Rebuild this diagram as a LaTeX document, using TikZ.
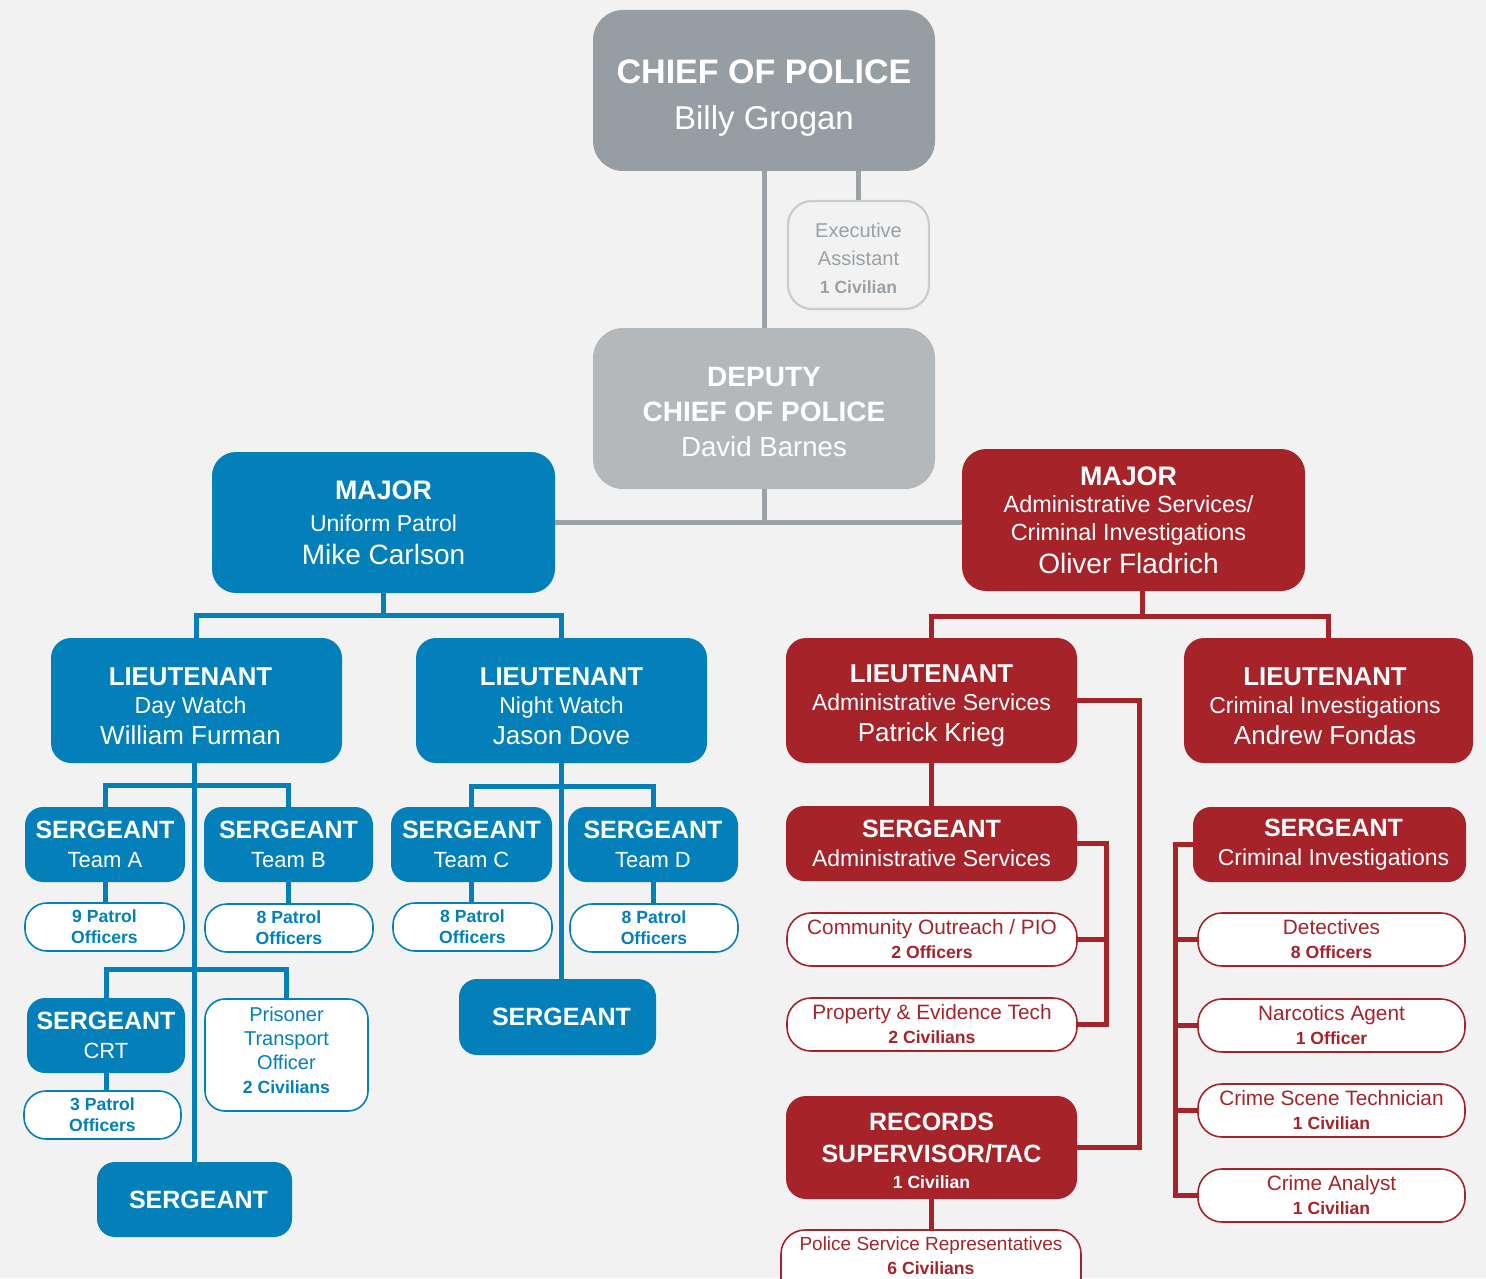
\documentclass[tikz,border=0pt]{standalone}
\usepackage{fontspec}
\setmainfont{Liberation Sans}
\definecolor{bgc}{HTML}{F2F2F2}
\definecolor{chiefc}{HTML}{969EA3}
\definecolor{deputyc}{HTML}{B4B8BB}
\definecolor{linegray}{HTML}{9AA2A6}
\definecolor{execborder}{HTML}{C8CCCF}
\definecolor{exectext}{HTML}{9AA1A6}
\definecolor{bluec}{HTML}{0380B9}
\definecolor{redc}{HTML}{A6232A}
\newcommand{\fs}[2]{\fontsize{#1}{#2}\selectfont}
\tikzset{
  sz/.style 2 args={minimum width={#1*0.5pt},minimum height={#2*0.5pt}},
  boxbase/.style={inner sep=0pt, align=center, text=white},
  graybox/.style={boxbase},
  bluebox/.style={boxbase, fill=bluec},
  redbox/.style={boxbase, fill=redc},
  wblue/.style={inner sep=0pt, align=center, fill=white, draw=bluec, line width=0.8pt, text=bluec, rounded corners=11pt},
  wred/.style={inner sep=0pt, align=center, fill=white, draw=redc, line width=0.8pt, text=redc, rounded corners=12pt},
  execbox/.style={inner sep=0pt, align=center, fill=bgc, draw=execborder, line width=1.1pt, text=exectext, rounded corners=12pt, font=\fs{10}{14}},
  gline/.style={draw=linegray, line width=2.5pt},
  bline/.style={draw=bluec, line width=2.5pt},
  rline/.style={draw=redc, line width=2.5pt},
  ltfont/.style={font=\fs{11.5}{14}, text height=43.9pt},
  sgfont/.style={font=\fs{11}{14.5}},
  patfont/.style={font=\bfseries\fs{8.8}{10.5}}
}
\begin{document}
\begin{tikzpicture}[x=0.5pt,y=-0.5pt]
\useasboundingbox (0,0) rectangle (1486,1278);
\clip (0,0) rectangle (1486,1278);
\fill[bgc] (0,0) rectangle (1486,1278);

% ---------- top ----------
\node[graybox, fill=chiefc, sz={342}{161}, rounded corners=15pt, font=\fs{17}{23}, text height=42.4pt] (chief) at (764,90.5)
  {\textbf{CHIEF OF POLICE}\\{\fs{16.5}{23}Billy Grogan}};
\node[execbox, sz={141}{108}, text height=38.2pt] (exec) at (858.5,255)
  {Executive\\Assistant\\{\bfseries\fs{8.8}{14}1 Civilian}};
\node[graybox, fill=deputyc, sz={342}{161}, rounded corners=15pt, font=\fs{14}{17.5}, text height=48.2pt] (deputy) at (764,408.5)
  {\textbf{DEPUTY}\\\textbf{CHIEF OF POLICE}\\{\fs{13.8}{17.5}David Barnes}};

% ---------- majors ----------
\node[bluebox, sz={343}{141}, rounded corners=12pt, font=\fs{11.5}{16}] (majB) at (383.5,522.5)
  {{\bfseries\fs{13.4}{16}MAJOR}\\Uniform Patrol\\[0.5pt]{\fs{14}{16}Mike Carlson}};
\node[redbox, sz={343}{142}, rounded corners=12pt, font=\fs{11.7}{13.75}] (majR) at (1133.5,520)
  {\hspace*{-5pt}{\bfseries\fs{13.4}{14}MAJOR}\\\hspace*{-5pt}Administrative Services/\\\hspace*{-5pt}Criminal Investigations\\[2.75pt]\hspace*{-5pt}{\fs{14}{14}Oliver Fladrich}};

% ---------- lieutenants ----------
\node[bluebox, ltfont, sz={291}{125}, rounded corners=10pt] (ltD) at (196.5,700.5)
  {\hspace*{-6pt}{\bfseries\fs{12.9}{14}LIEUTENANT}\\\hspace*{-6pt}Day Watch\\[1.5pt]\hspace*{-6pt}{\fs{13}{14}William Furman}};
\node[bluebox, ltfont, sz={291}{125}, rounded corners=10pt] (ltN) at (561.5,700.5)
  {{\bfseries\fs{12.9}{14}LIEUTENANT}\\Night Watch\\[1.5pt]{\fs{13}{14}Jason Dove}};
\node[redbox, ltfont, sz={291}{125}, rounded corners=10pt] (ltA) at (931.5,700.5)
  {{\bfseries\fs{12.9}{14}LIEUTENANT}\\Administrative Services\\[1.5pt]{\fs{13}{14}Patrick Krieg}};
\node[redbox, ltfont, sz={289}{125}, rounded corners=10pt] (ltC) at (1328.5,700.5)
  {\hspace*{-3.5pt}{\bfseries\fs{12.9}{14}LIEUTENANT}\\\hspace*{-3.5pt}Criminal Investigations\\[1.5pt]\hspace*{-3.5pt}{\fs{13}{14}Andrew Fondas}};

% ---------- blue sergeants ----------
\node[bluebox, sgfont, sz={160}{75}, rounded corners=9pt] (sgtA) at (105,844.5)
  {{\bfseries\fs{12.5}{14.5}SERGEANT}\\Team A};
\node[bluebox, sgfont, sz={169}{75}, rounded corners=9pt] (sgtB) at (288.5,844.5)
  {{\bfseries\fs{12.5}{14.5}SERGEANT}\\Team B};
\node[bluebox, sgfont, sz={161}{75}, rounded corners=9pt] (sgtC) at (471.5,844.5)
  {{\bfseries\fs{12.5}{14.5}SERGEANT}\\Team C};
\node[bluebox, sgfont, sz={170}{75}, rounded corners=9pt] (sgtD) at (653,844.5)
  {{\bfseries\fs{12.5}{14.5}SERGEANT}\\Team D};
\node[wblue, patfont, sz={159}{48}] (patA) at (104.5,927) {9 Patrol\\Officers};
\node[wblue, patfont, sz={168}{48}] (patB) at (289,928) {8 Patrol\\Officers};
\node[wblue, patfont, sz={159}{48}] (patC) at (472.5,927) {8 Patrol\\Officers};
\node[wblue, patfont, sz={168}{48}] (patD) at (654,928) {8 Patrol\\Officers};
\node[bluebox, sgfont, sz={158}{75}, rounded corners=9pt] (sgtCRT) at (106,1035.5)
  {{\bfseries\fs{12.5}{14.5}SERGEANT}\\CRT};
\node[wblue, sz={163}{112}, rounded corners=10pt, font=\fs{10}{12}, text depth=5pt] (pris) at (286.5,1055)
  {Prisoner\\Transport\\Officer\\{\bfseries\fs{8.8}{12}2 Civilians}};
\node[wblue, patfont, sz={157}{48}] (pat3) at (102.5,1115) {3 Patrol\\Officers};
\node[bluebox, sz={195}{75}, rounded corners=9pt, font=\bfseries\fs{12.5}{14}] (sgtE) at (194.5,1199.5) {\hspace*{4pt}SERGEANT};
\node[bluebox, sz={197}{76}, rounded corners=9pt, font=\bfseries\fs{12.5}{14}] (sgtF) at (557.5,1017) {\hspace*{4pt}SERGEANT};

% ---------- red lower ----------
\node[redbox, sz={291}{75}, rounded corners=9pt, font=\fs{11.5}{14.5}] (sgtAdm) at (931.5,843.5)
  {{\bfseries\fs{12.5}{14.5}SERGEANT}\\Administrative Services};
\node[wred, sz={290}{53}, font=\fs{10.4}{12}] (comm) at (932,939.5)
  {Community Outreach / PIO\\{\bfseries\fs{8.8}{12}2 Officers}};
\node[wred, sz={290}{53}, font=\fs{10.4}{12}] (prop) at (932,1024.5)
  {Property \& Evidence Tech\\{\bfseries\fs{8.8}{12}2 Civilians}};
\node[redbox, sz={291}{103}, rounded corners=10pt, font=\fs{12.5}{16}, text height=41.1pt] (rec) at (931.5,1147.5)
  {\textbf{RECORDS}\\\textbf{SUPERVISOR/TAC}\\[-3pt]{\bfseries\fs{8.8}{16}1 Civilian}};
\node[wred, sz={300}{80}, font=\fs{9.5}{12}, text depth=14.5pt] (psr) at (931,1270)
  {Police Service Representatives\\{\bfseries\fs{8.8}{12}6 Civilians}};
\node[redbox, sz={273}{75}, rounded corners=9pt, font=\fs{11.5}{14.5}] (sgtCI) at (1329.5,844.5)
  {\hspace*{4pt}{\bfseries\fs{12.5}{14.5}SERGEANT}\\\hspace*{4pt}Criminal Investigations};
\node[wred, sz={267}{53}, font=\fs{10.4}{12}] (det) at (1331.5,939.5)
  {Detectives\\{\bfseries\fs{8.8}{12}8 Officers}};
\node[wred, sz={267}{53}, font=\fs{10.4}{12}] (narc) at (1331.5,1025.5)
  {Narcotics Agent\\{\bfseries\fs{8.8}{12}1 Officer}};
\node[wred, sz={267}{53}, font=\fs{10.4}{12}] (cst) at (1331.5,1110.5)
  {Crime Scene Technician\\{\bfseries\fs{8.8}{12}1 Civilian}};
\node[wred, sz={267}{53}, font=\fs{10.4}{12}] (ca) at (1331.5,1195.5)
  {Crime Analyst\\{\bfseries\fs{8.8}{12}1 Civilian}};

% ---------- gray connectors ----------
\draw[gline] (chief.south) -- (deputy.north);
\draw[gline] (exec.north) -- (exec.north |- chief.south);
\draw[gline] (deputy.south) -- (deputy.south |- majB.east);
\draw[gline] (majB.east) -- (majB.east -| majR.west);

% ---------- blue connectors ----------
\coordinate (bj) at (383.5,615);
\draw[bline] (majB.south) -- (bj);
\draw[bline] (ltD.north) |- (bj) -| (ltN.north);
\coordinate (dA) at (194.5,785);
\coordinate (dB) at (194.5,969);
\draw[bline] (ltD.south -| sgtE.north) -- (sgtE.north);
\draw[bline] (sgtA.north) |- (dA) -| (sgtB.north);
\draw[bline] (sgtA.south) -- (sgtA.south |- patA.north);
\draw[bline] (sgtB.south) -- (sgtB.south |- patB.north);
\draw[bline] (sgtCRT.north) |- (dB) -| (pris.north);
\draw[bline] (sgtCRT.south) -- (sgtCRT.south |- pat3.north);
\coordinate (nA) at (561.5,786);
\draw[bline] (ltN.south) -- (ltN.south |- sgtF.north);
\draw[bline] (sgtC.north) |- (nA) -| (sgtD.north);
\draw[bline] (sgtC.south) -- (sgtC.south |- patC.north);
\draw[bline] (sgtD.south) -- (sgtD.south |- patD.north);

% ---------- red connectors ----------
\coordinate (rj) at (1142,616);
\draw[rline] (rj |- majR.south) -- (rj);
\draw[rline] (ltA.north) |- (rj) -| (ltC.north);
\coordinate (rx) at (1139.5,0);
\draw[rline] (ltA.east) -| (rx |- rec.east) -- (rec.east);
\draw[rline] (ltA.south) -- (sgtAdm.north);
\coordinate (sx) at (1106,0);
\draw[rline] (sgtAdm.east) -| (sx |- prop.east) -- (prop.east);
\draw[rline] (comm.east) -- (sx |- comm.east);
\draw[rline] (rec.south) -- (rec.south |- psr.north);
\coordinate (cx) at (1175,0);
\draw[rline] (sgtCI.west) -| (cx |- ca.west) -- (ca.west);
\draw[rline] (det.west) -- (cx |- det.west);
\draw[rline] (narc.west) -- (cx |- narc.west);
\draw[rline] (cst.west) -- (cx |- cst.west);
\end{tikzpicture}
\end{document}
